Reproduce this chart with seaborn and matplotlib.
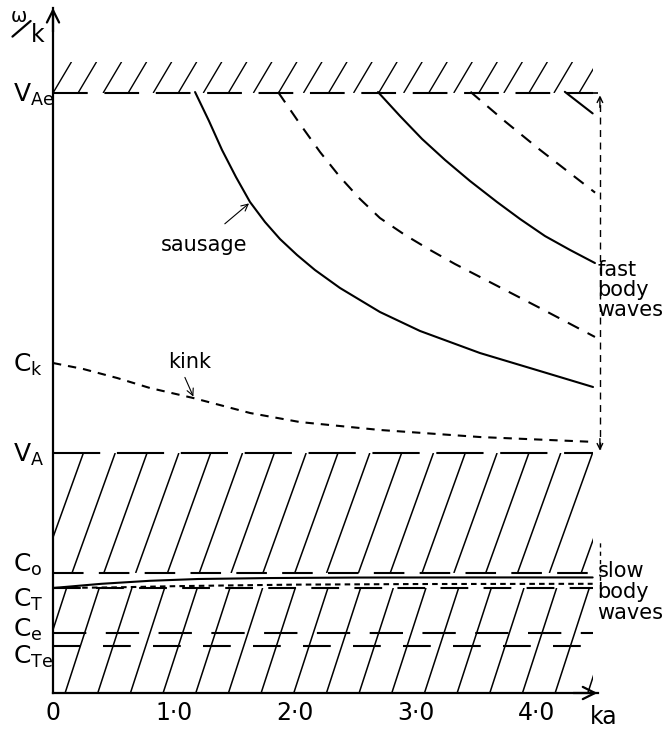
import numpy as np
import matplotlib
matplotlib.use("Agg")
import matplotlib.pyplot as plt
import seaborn as sns
from matplotlib.collections import LineCollection
from matplotlib.patches import Rectangle

# ---------------- data (speeds in units of c_o, ka dimensionless) ----------------
level_labels = [r"$\mathregular{V_{Ae}}$", r"$\mathregular{C_{k}}$", r"$\mathregular{V_{A}}$",
                r"$\mathregular{C_{o}}$", r"$\mathregular{C_{T}}$", r"$\mathregular{C_{e}}$",
                r"$\mathregular{C_{Te}}$"]
level_values = [5.0, 2.75, 2.0, 1.0, 0.875, 0.5, 0.39]
V_AE, C_K, V_A, C_O, C_T, C_E, C_TE = level_values
KA_MAX = 4.46

xtick_values = [0, 1, 2, 3, 4]
xtick_labels = ["0", "1·0", "2·0", "3·0", "4·0"]

# fast body waves
saus1_ka = [1.174, 1.289, 1.397, 1.512, 1.628, 1.752, 1.876, 2.017, 2.165, 2.372, 2.702, 3.033, 3.529, 4.025, 4.463]
saus1_w = [5.008, 4.767, 4.525, 4.300, 4.092, 3.925, 3.783, 3.650, 3.525, 3.375, 3.175, 3.017, 2.833, 2.683, 2.550]
kink1_ka = [0.0, 0.25, 0.53, 0.80, 1.16, 1.63, 2.04, 2.70, 3.53, 4.48]
kink1_w = [2.75, 2.70, 2.625, 2.542, 2.458, 2.333, 2.258, 2.192, 2.133, 2.092]
kink2_ka = [1.860, 2.041, 2.207, 2.372, 2.537, 2.702, 2.909, 3.116, 3.322, 3.529, 4.025, 4.479]
kink2_w = [5.008, 4.742, 4.508, 4.300, 4.117, 3.958, 3.817, 3.692, 3.575, 3.467, 3.208, 2.967]
saus2_ka = [2.686, 2.868, 3.050, 3.240, 3.446, 3.669, 3.860, 4.066, 4.273, 4.479]
saus2_w = [5.008, 4.808, 4.617, 4.442, 4.267, 4.092, 3.950, 3.808, 3.692, 3.583]
kink3_ka = [3.45, 3.74, 4.02, 4.25, 4.48]
kink3_w = [5.01, 4.76, 4.53, 4.35, 4.17]
saus3_ka = [4.23, 4.46]
saus3_w = [5.01, 4.83]

# slow body waves
slow_saus_ka = [0.0, 0.4, 0.8, 1.2, 1.8, 2.5, 3.5, 4.46]
slow_saus_w = [0.875, 0.91, 0.935, 0.95, 0.958, 0.962, 0.963, 0.963]
slow_kink_ka = [0.0, 0.5, 1.0, 1.5, 2.0, 3.0, 4.46]
slow_kink_w = [0.875, 0.88, 0.89, 0.897, 0.903, 0.908, 0.91]

# ---------------- style ----------------
sns.set_theme(style="white")
plt.rcParams["font.family"] = ["DejaVu Sans"]
plt.rcParams["mathtext.fontset"] = "dejavusans"
plt.rcParams["lines.scale_dashes"] = False

fig = plt.figure(figsize=(6.65, 7.3), dpi=100)
ax = fig.add_axes([0, 0, 1, 1])
ax.set_xlim(-53 / 121, (665 - 53) / 121)
ax.set_ylim(-(730 - 693) / 120, 693 / 120)
Y_TOP = 5.71
X_TOP = 4.5

for side in ["top", "right"]:
    ax.spines[side].set_visible(False)
ax.spines["left"].set_position(("data", 0))
ax.spines["bottom"].set_position(("data", 0))
ax.spines["left"].set_bounds(0, Y_TOP)
ax.spines["bottom"].set_bounds(0, X_TOP)
for side in ["left", "bottom"]:
    ax.spines[side].set_color("black")
    ax.spines[side].set_linewidth(1.6)

ax.set_xticks(xtick_values, labels=xtick_labels)
ax.set_yticks(np.arange(0.5, 5.0, 0.5), labels=[])
ax.tick_params(axis="x", direction="in", length=5, width=1.2, pad=6, labelsize=17, colors="black")
ax.tick_params(axis="y", direction="in", length=4, width=1.0, colors="black")

# axis arrowheads
arrow_kw = dict(arrowstyle="->", lw=1.6, color="black", mutation_scale=22, shrinkA=0, shrinkB=0)
ax.annotate("", xy=(X_TOP, 0), xytext=(X_TOP - 0.2, 0), arrowprops=arrow_kw)
ax.annotate("", xy=(0, Y_TOP), xytext=(0, Y_TOP - 0.2), arrowprops=arrow_kw)


def hatch(y0, y1, slope, spacing, phase, lw=1.0):
    dx = (y1 - y0) / slope
    start = phase - spacing * np.ceil((dx + phase) / spacing)
    xb = np.arange(start, KA_MAX + spacing, spacing)
    segs = [[(b, y0), (b + dx, y1)] for b in xb]
    lc = LineCollection(segs, colors="black", linewidths=lw)
    ax.add_collection(lc)
    rect = Rectangle((0, y0), KA_MAX, y1 - y0, transform=ax.transData)
    lc.set_clip_path(rect)


hatch(V_AE, V_AE + 0.26, 1.7, 0.207, 0.0, lw=1.0)
hatch(C_O, V_A, 2.8, 0.263, 0.157, lw=1.1)
hatch(0.0, C_T, 3.1, 0.27, 0.10, lw=1.1)

# level boundary lines
dash_styles = {
    V_AE: (0, (25, 12)),
    V_A: (0, (34, 12)),
    C_O: (0, (22, 11)),
    C_T: (0, (20, 11)),
    C_E: (0, (24, 14)),
    C_TE: (0, (20, 16)),
}
for lev, ls in dash_styles.items():
    ax.hlines(lev, 0, KA_MAX, colors="black", linewidth=1.5, linestyles=[ls])
ax.hlines(V_AE, KA_MAX, X_TOP, colors="black", linewidth=1.2, linestyles=[(0, (4, 4))])

# dispersion curves
solid_kw = dict(color="black", linewidth=1.5, estimator=None, ax=ax, legend=False)
for xs, ys in [(saus1_ka, saus1_w), (saus2_ka, saus2_w), (saus3_ka, saus3_w)]:
    sns.lineplot(x=xs, y=ys, **solid_kw)
sns.lineplot(x=kink1_ka, y=kink1_w, linestyle=(0, (6, 5)), **solid_kw)
for xs, ys in [(kink2_ka, kink2_w), (kink3_ka, kink3_w)]:
    sns.lineplot(x=xs, y=ys, linestyle=(0, (9, 7)), **solid_kw)
sns.lineplot(x=slow_saus_ka, y=slow_saus_w, **solid_kw)
sns.lineplot(x=slow_kink_ka, y=slow_kink_w, linestyle=(0, (4, 3)), **solid_kw)
ax.set_xlabel("")
ax.set_ylabel("")

# fast body wave range arrow
ax.vlines(4.52, V_A + 0.03, V_AE - 0.03, colors="black", linewidth=1.0, linestyles=[(0, (5, 4))])
small_arrow = dict(arrowstyle="->", lw=1.0, color="black", mutation_scale=10, shrinkA=0, shrinkB=0)
ax.annotate("", xy=(4.52, V_AE - 0.02), xytext=(4.52, V_AE - 0.12), arrowprops=small_arrow)
ax.annotate("", xy=(4.52, V_A + 0.02), xytext=(4.52, V_A + 0.12), arrowprops=small_arrow)
# slow body wave range marker
ax.vlines(4.52, 0.80, 1.28, colors="black", linewidth=1.0, linestyles=[(0, (3, 3))])

# level labels
label_offsets = [-0.07, -0.07, -0.07, 0.01, -0.16, -0.035, -0.15]
for lab, lev, off in zip(level_labels, level_values, label_offsets):
    ax.text(-0.33, lev + off, lab, fontsize=18, ha="left", va="baseline", color="black")

# omega / k axis label
ax.text(-0.285, 5.64, "ω", fontsize=14, ha="center", va="center", color="black")
ax.plot([-0.335, -0.185], [5.47, 5.60], color="black", linewidth=1.6)
ax.text(-0.125, 5.48, "k", fontsize=17, ha="center", va="center", color="black")

ax.text(4.55, -0.2, "ka", fontsize=17, ha="center", va="center", color="black")

# annotations
ax.text(1.25, 3.73, "sausage", fontsize=15, ha="center", va="center", color="black")
ax.annotate("", xy=(1.62, 4.08), xytext=(1.42, 3.91),
            arrowprops=dict(arrowstyle="->", lw=0.8, color="black", mutation_scale=12, shrinkA=0, shrinkB=0))
ax.text(1.13, 2.76, "kink", fontsize=15, ha="center", va="center", color="black")
ax.annotate("", xy=(1.16, 2.47), xytext=(1.09, 2.63),
            arrowprops=dict(arrowstyle="->", lw=0.8, color="black", mutation_scale=12, shrinkA=0, shrinkB=0))

ax.text(4.50, 3.36, "fast\nbody\nwaves", fontsize=15, ha="left", va="center", linespacing=1.0, color="black")
ax.text(4.50, 0.84, "slow\nbody\nwaves", fontsize=15, ha="left", va="center", linespacing=1.05, color="black")

fig.savefig("out.png", dpi=100, facecolor="white")
